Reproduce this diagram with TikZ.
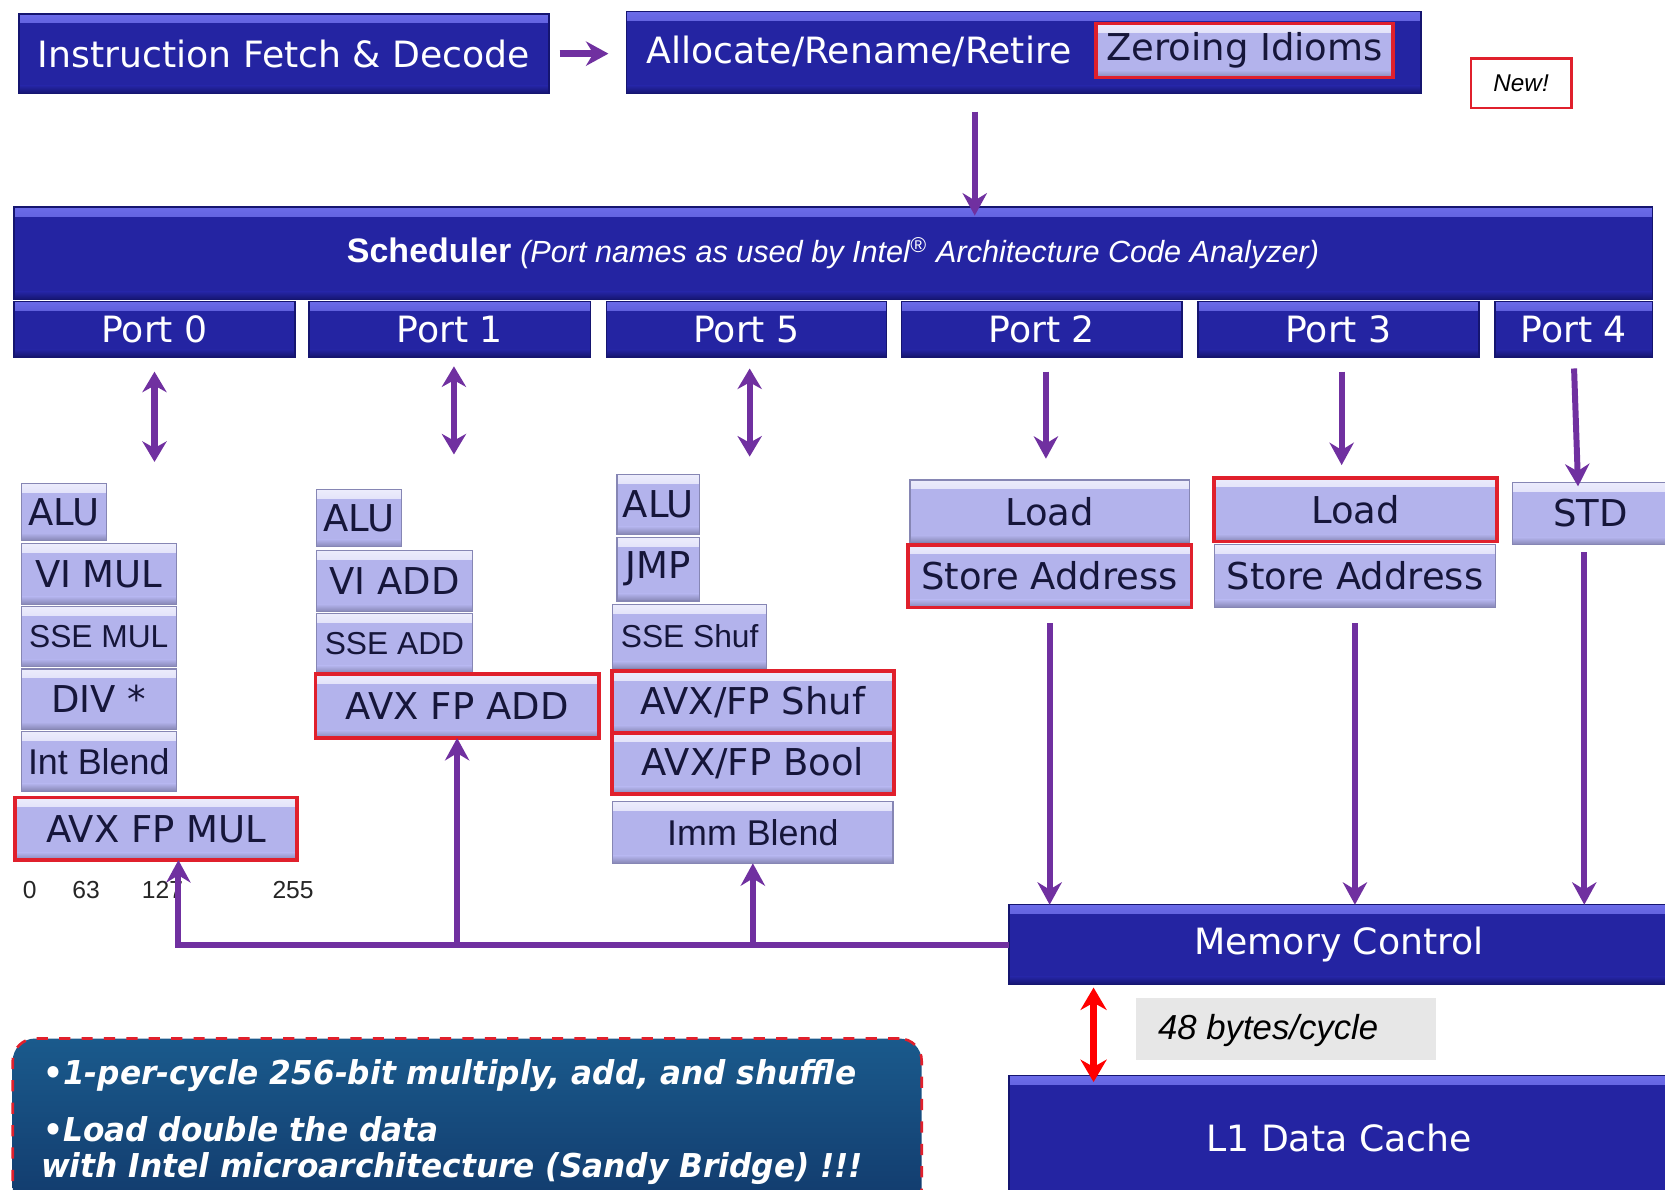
\documentclass[tikz,border=0pt]{standalone}
\usepackage{fontspec}
\setmainfont{DejaVu Sans}
\newfontfamily\vfont{DejaVu Sans}
\newfontfamily\afont{Liberation Sans}
\usetikzlibrary{arrows.meta}

\definecolor{dkblue}{HTML}{2424A2}
\definecolor{dktop}{HTML}{6B6BE8}
\definecolor{dkbot}{HTML}{151570}
\definecolor{lav}{HTML}{B3B3EC}
\definecolor{lavtop}{HTML}{ECECFC}
\definecolor{lavbot}{HTML}{8686B4}
\definecolor{unittext}{HTML}{16163A}
\definecolor{hlred}{HTML}{E0202C}
\definecolor{pur}{HTML}{7030A0}
\definecolor{notetop}{HTML}{1A5A8C}
\definecolor{notebot}{HTML}{123A6C}
\definecolor{ratebox}{HTML}{E7E7E7}

% block from corner (x1,y1) to corner (x2,y2), y growing downwards
\newcommand\blk[7]{%
  \node[#6, anchor=north west, inner sep=0pt, outer sep=0pt,
        minimum width={(#4-#2)*0.01cm}, minimum height={(#5-#3)*0.01cm}]
        (#1) at (#2,#3) {#7};}

\begin{document}
\begin{tikzpicture}[x=0.01cm, y=-0.01cm,
  dkfont/.style={font=\vfont\fontsize{9.7pt}{11pt}\selectfont},
  dk/.style={fill=dkblue, draw=dkbot, line width=0.4pt, text=white, dkfont,
    path picture={
      \shade[top color=dktop, bottom color=dkblue]
        (path picture bounding box.north west) rectangle ([yshift=-2.4pt]path picture bounding box.north east);
      \shade[top color=dkblue, bottom color=dkbot]
        ([yshift=2pt]path picture bounding box.south west) rectangle (path picture bounding box.south east);
    }},
  lav/.style={fill=lav, draw=lavbot, line width=0.3pt, text=unittext,
    font=\vfont\fontsize{9.9pt}{11pt}\selectfont,
    path picture={
      \shade[top color=lavtop, bottom color=lav]
        (path picture bounding box.north west) rectangle ([yshift=-2.4pt]path picture bounding box.north east);
      \shade[top color=lav, bottom color=lavbot]
        ([yshift=2pt]path picture bounding box.south west) rectangle (path picture bounding box.south east);
    }},
  lavA/.style={lav, font=\afont\fontsize{8.5pt}{10pt}\selectfont},
  lavB/.style={lav, font=\afont\fontsize{9.6pt}{11pt}\selectfont},
  hl/.style={lav, draw=hlred, line width=1pt},
  newbox/.style={fill=white, draw=hlred, line width=0.6pt, text=black,
    font=\afont\itshape\fontsize{6.5pt}{8pt}\selectfont},
  parrow/.style={draw=pur, line width=1.6pt, -{Stealth[length=6pt, width=6.5pt]}},
  dblarrow/.style={draw=pur, line width=1.7pt, {Stealth[length=5.5pt, width=6.5pt]}-{Stealth[length=5.5pt, width=6.5pt]}},
  redarrow/.style={draw=red, line width=1.8pt, {Stealth[length=6pt, width=7pt]}-{Stealth[length=6pt, width=7pt]}},
  bitlbl/.style={text=black!85, inner sep=0pt, font=\afont\fontsize{6.6pt}{8pt}\selectfont},
  notetext/.style={text=white, anchor=west, inner sep=0pt,
    font=\vfont\bfseries\itshape\fontsize{8.8pt}{10pt}\selectfont}
]
\useasboundingbox (0,0) rectangle (1568,1120);
\clip (0,0) rectangle (1568,1120);
\fill[white] (0,0) rectangle (1568,1120);

% front end
\blk{ifd}{18}{13}{517}{88}{dk}{Instruction Fetch \& Decode}
\blk{alloc}{590}{11}{1338}{88}{dk}{}
\node[dkfont, text=white, anchor=west, inner sep=0pt] (alloctxt) at (608,48) {Allocate/Rename/Retire};
\blk{zero}{1032}{22}{1312}{73}{hl}{Zeroing Idioms}
\blk{new}{1385}{55}{1480}{102}{newbox}{New!}

% scheduler and its ports
\blk{sched}{13}{195}{1556}{282}{dk}{{\afont\bfseries\fontsize{9.1pt}{11pt}\selectfont Scheduler}\hspace{0.25em}{\afont\itshape\fontsize{8.2pt}{10pt}\selectfont (Port names as used by Intel\textsuperscript{\textregistered} Architecture Code Analyzer)}}
\blk{p0}{13}{284}{278}{336}{dk}{Port 0}
\blk{p1}{291}{284}{556}{336}{dk}{Port 1}
\blk{p5}{571}{284}{835}{336}{dk}{Port 5}
\blk{p2}{849}{284}{1113}{336}{dk}{Port 2}
\blk{p3}{1128}{284}{1393}{336}{dk}{Port 3}
\blk{p4}{1408}{284}{1556}{336}{dk}{Port 4}

% port 0 units
\blk{alu0}{20}{455}{100}{509}{lav}{ALU}
\blk{vimul}{20}{512}{166}{569}{lav}{VI MUL}
\blk{ssemul}{20}{571}{166}{628}{lavA}{SSE MUL}
\blk{div}{20}{630}{166}{687}{lav}{DIV *}
\blk{intbl}{20}{689}{166}{745}{lavB}{Int Blend}
\blk{fpmul}{14}{751}{280}{810}{hl}{AVX FP MUL}

% port 1 units
\blk{alu1}{298}{461}{378}{515}{lav}{ALU}
\blk{viadd}{298}{518}{445}{576}{lav}{VI ADD}
\blk{sseadd}{298}{578}{445}{634}{lavA}{SSE ADD}
\blk{fpadd}{297}{635}{564}{695}{hl}{AVX FP ADD}

% port 5 units
\blk{alu5}{581}{447}{659}{503}{lav}{ALU}
\blk{jmp}{581}{506}{659}{566}{lav}{JMP}
\blk{sseshuf}{577}{569}{722}{630}{lavA}{SSE Shuf}
\blk{fpshuf}{576}{632}{842}{690}{hl}{AVX/FP Shuf}
\blk{fpbool}{576}{690}{842}{748}{hl}{AVX/FP Bool}
\blk{immbl}{577}{755}{841}{813}{lavB}{Imm Blend}

% port 2, 3, 4 units
\blk{load2}{857}{452}{1120}{511}{lav}{Load}
\blk{sta2}{855}{513}{1122}{572}{hl}{Store Address}
\blk{load3}{1143}{450}{1410}{510}{hl}{Load}
\blk{sta3}{1144}{513}{1408}{572}{lav}{Store Address}
\blk{std}{1424}{454}{1572}{513}{lav}{STD}

% bit positions under the 256-bit unit
\node[bitlbl] (b0) at (28,838) {0};
\node[bitlbl] (b63) at (81,838) {63};
\node[bitlbl] (b127) at (153,838) {127};
\node[bitlbl] (b255) at (276,838) {255};

% memory side
\blk{mc}{950}{852}{1572}{927}{dk}{Memory Control}
\blk{l1}{950}{1013}{1572}{1130}{dk}{L1 Data Cache}
\blk{rate}{1070}{940}{1352}{998}{fill=ratebox}{}
\node[anchor=west, inner sep=0pt, font=\afont\itshape\fontsize{9.3pt}{11pt}\selectfont] (ratetxt) at (1090,970) {48 bytes/cycle};

% summary note
\blk{note}{12}{978}{868}{1140}{rounded corners=6pt, top color=notetop, bottom color=notebot, draw=hlred, dashed, line width=0.7pt}{}
\node[notetext] (n1) at (40,1013) {\scalebox{0.95}[1]{\textbullet1-per-cycle 256-bit multiply, add, and shuffle}};
\node[notetext] (n2) at (40,1063) {\scalebox{0.95}[1]{\textbullet Load double the data}};
\node[notetext] (n3) at (38,1100) {\scalebox{0.95}[1]{with Intel microarchitecture (Sandy Bridge) !!!}};

% connectors
\draw[parrow, line width=2pt, shorten <=0.1cm, shorten >=0.17cm] (ifd.east) -- (ifd.east -| alloc.west);
\draw[parrow, shorten <=0.17cm, shorten >=-0.08cm] ([xshift=-0.46cm]alloc.south) -- ([xshift=-0.46cm]alloc.south |- sched.north);

\draw[dblarrow, shorten <=0.14cm, shorten >=0.2cm] (p0.south) -- (p0.south |- alu0.north);
\draw[dblarrow, shorten <=0.09cm, shorten >=0.33cm] ([xshift=0.04cm]p1.south) -- ([xshift=0.04cm]p1.south |- alu1.north);
\draw[dblarrow, shorten <=0.11cm, shorten >=0.17cm] ([xshift=0.03cm]p5.south) -- ([xshift=0.03cm]p5.south |- alu5.north);
\draw[parrow, shorten <=0.14cm, shorten >=0.2cm] ([xshift=0.04cm]p2.south) -- ([xshift=0.04cm]p2.south |- load2.north);
\draw[parrow, shorten <=0.14cm, shorten >=0.12cm] ([xshift=0.03cm]p3.south) -- ([xshift=0.03cm]p3.south |- load3.north);
\draw[parrow, shorten <=0.11cm, shorten >=-0.04cm] (p4.south) -- ([xshift=0.04cm]p4.south |- std.north);

\draw[parrow, shorten <=0.15cm] (sta2.south) -- (sta2.south |- mc.north);
\draw[parrow, shorten <=0.15cm] (sta3.south) -- (sta3.south |- mc.north);
\draw[parrow, shorten <=0.07cm] ([xshift=-0.06cm]std.south) -- ([xshift=-0.06cm]std.south |- mc.north);

\draw[parrow] (mc.west) -| ([xshift=0.21cm]fpmul.south);
\draw[parrow] (mc.west -| fpadd.south) -- (fpadd.south);
\draw[parrow] (mc.west -| immbl.south) -- (immbl.south);

\draw[redarrow, shorten <=0.03cm, shorten >=-0.06cm] ([xshift=-2.31cm]mc.south) -- ([xshift=-2.31cm]mc.south |- l1.north);
\end{tikzpicture}
\end{document}
